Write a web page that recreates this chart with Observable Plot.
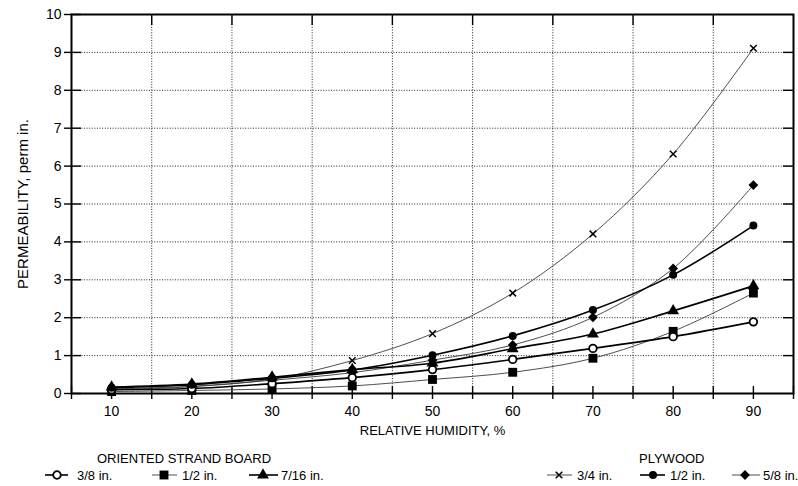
<!DOCTYPE html>
<html><head><meta charset="utf-8">
<script src="https://cdn.jsdelivr.net/npm/d3@7"></script>
<script src="https://cdn.jsdelivr.net/npm/@observablehq/plot@0.6"></script>
<style>
html,body{margin:0;padding:0;background:#fff;}
#chart{width:798px;height:486px;position:relative;font-family:"Liberation Sans",Arial,sans-serif;background:#fff;}
#chart svg{display:block;}
</style></head><body><div id="chart"></div>
<script>
// ---- data ----
const humidity = [10, 20, 30, 40, 50, 60, 70, 80, 90];
const osb38  = [0.10, 0.13, 0.26, 0.42, 0.63, 0.90, 1.19, 1.50, 1.89];
const osb12  = [0.05, 0.08, 0.12, 0.20, 0.37, 0.56, 0.93, 1.64, 2.65];
const osb716 = [0.17, 0.25, 0.43, 0.63, 0.80, 1.18, 1.57, 2.18, 2.84];
const ply34  = [0.10, 0.18, 0.38, 0.87, 1.58, 2.65, 4.21, 6.32, 9.11];
const ply12  = [0.15, 0.23, 0.40, 0.62, 1.01, 1.52, 2.20, 3.13, 4.43];
const ply58  = [0.12, 0.19, 0.35, 0.55, 0.88, 1.28, 2.01, 3.30, 5.50];
const yTicks = [0, 1, 2, 3, 4, 5, 6, 7, 8, 9, 10];
const xTickLabels = [10, 20, 30, 40, 50, 60, 70, 80, 90];
const osbLabels = ["3/8 in.", "1/2 in.", "7/16 in."];
const plyLabels = ["3/4 in.", "1/2 in.", "5/8 in."];
const groupTitles = ["ORIENTED STRAND BOARD", "PLYWOOD"];
const xTitle = "RELATIVE HUMIDITY, %";
const yTitle = "PERMEABILITY, perm in.";

// ---- styles (kept separate from data) ----
const BLACK = {stroke: "#000", strokeWidth: 1.6};
const GRAY = {stroke: "#3a3a3a", strokeWidth: 0.9};
const seriesDefs = [
  {key: "osb12",  values: osb12,  line: GRAY,  symbol: "square",   r: 5.0, fill: "#000", dotStroke: "none", dotSW: 0},
  {key: "ply34",  values: ply34,  line: GRAY,  symbol: "times",    r: 3.1, fill: "none", dotStroke: "#000", dotSW: 1.5},
  {key: "ply58",  values: ply58,  line: GRAY,  symbol: "diamond2", r: 4.4, fill: "#000", dotStroke: "none", dotSW: 0},
  {key: "osb38",  values: osb38,  line: BLACK, symbol: "circle",   r: 3.8, fill: "#fff", dotStroke: "#000", dotSW: 1.8},
  {key: "osb716", values: osb716, line: BLACK, symbol: "triangle", r: 4.4, fill: "#000", dotStroke: "none", dotSW: 0},
  {key: "ply12",  values: ply12,  line: BLACK, symbol: "circle",   r: 4.0, fill: "#000", dotStroke: "none", dotSW: 0}
];
const rowsFor = s => humidity.map((h, i) => ({series: s.key, rh: h, perm: s.values[i]}));

const W = 798, H = 448;
const mL = 71, mR = 5, mT = 14, mB = 55;
const pw = W - mL - mR, ph = H - mT - mB;
const gridX = d3.range(15, 90, 10);
const gridY = d3.range(1, 10);
const dots = {stroke: "#111", strokeOpacity: 0.9, strokeDasharray: "1,1.6", strokeWidth: 1};
const tickStyle = {stroke: "#000", strokeWidth: 1.4};

const marks = [
  Plot.ruleY(gridY, {y: d => d, ...dots}),
  Plot.ruleX(gridX, {x: d => d, ...dots}),
  Plot.ruleX(d3.range(5, 96, 5), {x: d => d, insetTop: ph - 7, ...tickStyle}),
  Plot.ruleX(gridX, {x: d => d, insetBottom: ph - 11, ...tickStyle}),
  Plot.ruleY(yTicks, {y: d => d, insetRight: pw - 10, ...tickStyle}),
  Plot.ruleY(gridY, {y: d => d, insetLeft: pw - 10, ...tickStyle}),
  Plot.axisY(yTicks, {tickSize: 7, tickPadding: 3, label: null, fontSize: 14, strokeWidth: 1.4}),
  Plot.axisX(xTickLabels, {tickSize: 0, tickPadding: 13, label: null, fontSize: 14}),
  Plot.axisX(d3.range(5, 96, 5), {tickSize: 6, tickFormat: () => "", label: null, strokeWidth: 1.4}),
  Plot.frame({stroke: "#000", strokeWidth: 2}),
  Plot.text([xTitle], {text: d => d, frameAnchor: "bottom", dy: 41, fontSize: 13}),
  Plot.text([yTitle], {text: d => d, frameAnchor: "left", textAnchor: "middle", dx: -48, rotate: -90, fontSize: 15})
];
for (const s of seriesDefs) {
  marks.push(Plot.line(rowsFor(s), {x: "rh", y: "perm", curve: "catmull-rom", ...s.line}));
}
for (const s of seriesDefs) {
  marks.push(Plot.dot(rowsFor(s), {x: "rh", y: "perm", symbol: s.symbol, r: s.r, fill: s.fill, stroke: s.dotStroke, strokeWidth: s.dotSW}));
}

const chart = Plot.plot({
  width: W, height: H,
  marginLeft: mL, marginRight: mR, marginTop: mT, marginBottom: mB,
  x: {domain: [5, 95]},
  y: {domain: [0, 10]},
  style: {fontFamily: '"Liberation Sans", Arial, sans-serif', fontSize: "13px", color: "#000", background: "#fff", overflow: "visible"},
  marks
});
document.getElementById("chart").appendChild(chart);

// ---- legend below the plot ----
const symbolTypes = {circle: d3.symbolCircle, square: d3.symbolSquare, triangle: d3.symbolTriangle, diamond2: d3.symbolDiamond2, times: d3.symbolTimes};
const byKey = Object.fromEntries(seriesDefs.map(s => [s.key, s]));
const leg = d3.select("#chart").append("svg")
  .attr("width", W).attr("height", 486 - H)
  .style("font-family", '"Liberation Sans", Arial, sans-serif')
  .style("font-size", "13px");
leg.append("text").attr("x", 97).attr("y", 14.7).text(groupTitles[0]);
leg.append("text").attr("x", 639).attr("y", 14.7).text(groupTitles[1]);
const entries = [
  {key: "osb38",  label: osbLabels[0], x0: 45,  x1: 68,  cx: 57,  tx: 77},
  {key: "osb12",  label: osbLabels[1], x0: 152, x1: 177, cx: 164, tx: 182},
  {key: "osb716", label: osbLabels[2], x0: 249, x1: 278, cx: 263, tx: 281},
  {key: "ply34",  label: plyLabels[0], x0: 547, x1: 572, cx: 559, tx: 577},
  {key: "ply12",  label: plyLabels[1], x0: 640, x1: 665, cx: 653, tx: 670},
  {key: "ply58",  label: plyLabels[2], x0: 732, x1: 760, cx: 745, tx: 763}
];
const cy = 27;
for (const e of entries) {
  const s = byKey[e.key];
  leg.append("line").attr("x1", e.x0).attr("x2", e.x1).attr("y1", cy).attr("y2", cy)
    .attr("stroke", s.line.stroke).attr("stroke-width", s.line.strokeWidth);
  leg.append("path")
    .attr("d", d3.symbol(symbolTypes[s.symbol], Math.PI * s.r * s.r)())
    .attr("transform", `translate(${e.cx},${cy})`)
    .attr("fill", s.fill).attr("stroke", s.dotStroke).attr("stroke-width", s.dotSW);
  leg.append("text").attr("x", e.tx).attr("y", cy + 4.6).text(e.label);
}
</script>
</body></html>
